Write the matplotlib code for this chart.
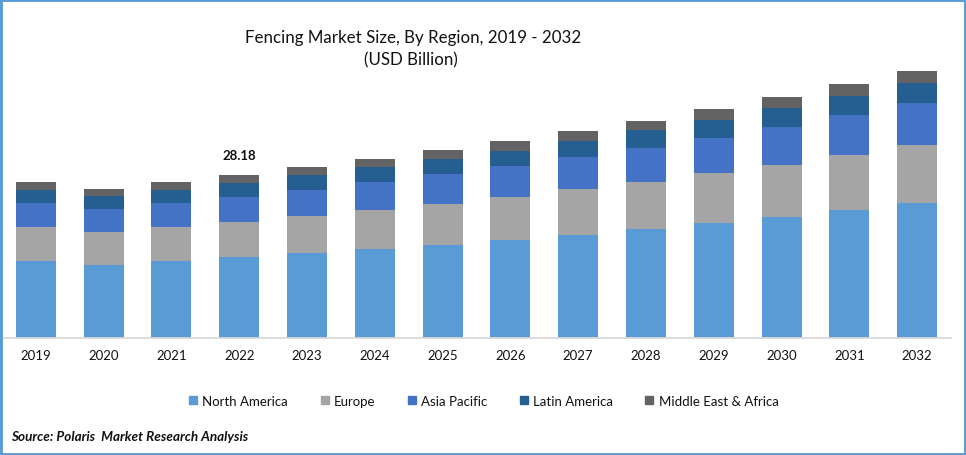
import matplotlib
matplotlib.use("Agg")
import matplotlib.pyplot as plt
import numpy as np
from matplotlib.lines import Line2D
from matplotlib.patches import Rectangle

plt.rcParams["font.family"] = ["Lato", "DejaVu Sans"]

years = ["2019", "2020", "2021", "2022", "2023", "2024", "2025",
         "2026", "2027", "2028", "2029", "2030", "2031", "2032"]
north_america = [13.31, 12.62, 13.31, 14.00, 14.70, 15.39, 16.08,
                 16.94, 17.81, 18.85, 19.88, 20.92, 22.13, 23.34]
europe = [5.88, 5.71, 5.88, 6.05, 6.40, 6.74, 7.09,
          7.43, 7.95, 8.13, 8.64, 8.99, 9.51, 10.03]
asia_pacific = [4.15, 3.98, 4.15, 4.32, 4.50, 4.84, 5.19,
                5.36, 5.53, 5.88, 6.05, 6.57, 6.92, 7.26]
latin_america = [2.25, 2.25, 2.25, 2.42, 2.59, 2.59, 2.59,
                 2.59, 2.77, 3.11, 3.11, 3.28, 3.28, 3.46]
middle_east = [1.38, 1.21, 1.38, 1.38, 1.38, 1.38, 1.56,
               1.73, 1.73, 1.56, 1.90, 1.90, 2.07, 2.07]

series = [
    ("North America", north_america, "#5b9bd5"),
    ("Europe", europe, "#a5a5a5"),
    ("Asia Pacific", asia_pacific, "#4472c4"),
    ("Latin America", latin_america, "#255e91"),
    ("Middle East & Africa", middle_east, "#636363"),
]

W, H = 966, 456
fig = plt.figure(figsize=(W / 100, H / 100), dpi=100, facecolor="white")

# axes box in pixels: baseline at y=339, x from 2 to 951
ax = fig.add_axes([2 / W, (H - 339) / H, 949 / W, 278 / H])

x = np.arange(len(years))
bottom = np.zeros(len(years))
for name, vals, col in series:
    ax.bar(x, vals, width=0.59, bottom=bottom, color=col, label=name)
    bottom += np.array(vals)

ax.set_xlim(-0.5, 13.5)
ax.set_ylim(0, 278 / 5.784)
ax.set_xticks(x)
ax.set_xticklabels(years, fontsize=9.5, color="#111111")
ax.tick_params(axis="x", length=0, pad=8)
ax.yaxis.set_visible(False)
for side in ["top", "left", "right"]:
    ax.spines[side].set_visible(False)
ax.spines["bottom"].set_color("#d9d9d9")
ax.spines["bottom"].set_linewidth(1.3)

ax.text(3, 28.18 + 2.5, "28.18", ha="center", va="bottom",
        fontsize=9.5, fontweight="bold", color="#111111")

fig.text(413.5 / W, 1 - 37.5 / H, "Fencing Market Size, By Region, 2019 - 2032",
         ha="center", va="center", fontsize=12.2, color="#111111")
fig.text(411 / W, 1 - 60 / H, "(USD Billion)",
         ha="center", va="center", fontsize=12.2, color="#111111")

handles = [Line2D([], [], linestyle="none", marker="s", markersize=5.8,
                  color=col, label=name) for name, _, col in series]
fig.legend(handles=handles, ncol=5, loc="center",
           bbox_to_anchor=(483.5 / W, 1 - 402 / H), frameon=False,
           fontsize=9.5, labelcolor="#111111", handlelength=0.7,
           handletextpad=0.35, columnspacing=2.41)

fig.text(11 / W, 1 - 437 / H, "Source: Polaris  Market Research Analysis",
         ha="left", va="center", fontsize=9.7, fontweight="bold",
         fontstyle="italic", color="#111111")

# blue frame round the picture
fig.add_artist(Rectangle((0, 0), 1, 1, transform=fig.transFigure, fill=False,
                         edgecolor="#5b9bd5", linewidth=3.5))

fig.savefig("out.png", dpi=100, facecolor="white")
